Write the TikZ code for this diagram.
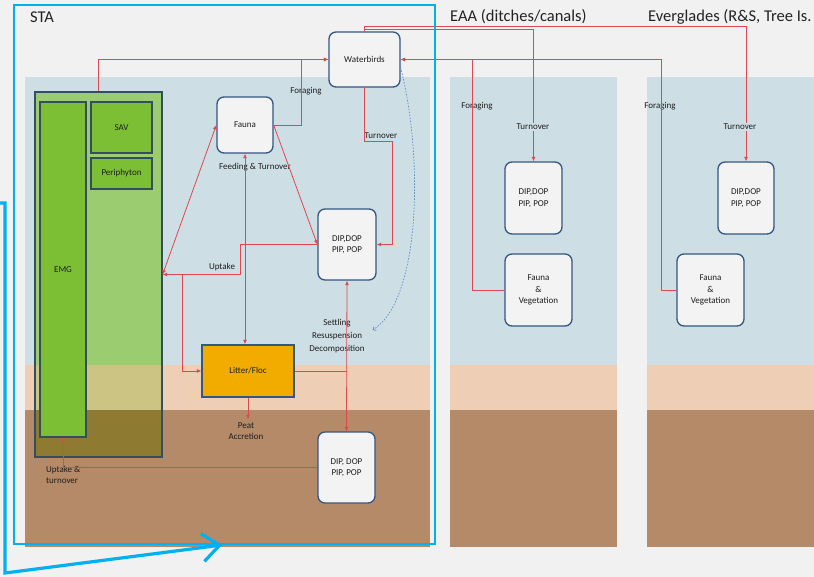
\documentclass[tikz,border=0pt]{standalone}
\usepackage{fontspec}
\setmainfont{Carlito}
\usetikzlibrary{arrows.meta}

\definecolor{paper}{RGB}{241,241,241}
\definecolor{water}{RGB}{205,223,229}
\definecolor{floc}{RGB}{238,206,180}
\definecolor{soil}{RGB}{181,138,105}
\definecolor{leafpale}{RGB}{156,204,112}
\definecolor{leafpeach}{RGB}{204,196,130}
\definecolor{leafsoil}{RGB}{143,122,50}
\definecolor{leaf}{RGB}{124,190,52}
\definecolor{plantline}{RGB}{50,78,96}
\definecolor{poolline}{RGB}{52,86,130}
\definecolor{poolfill}{RGB}{243,243,243}
\definecolor{flocorange}{RGB}{242,172,0}
\definecolor{flowred}{RGB}{222,72,80}
\definecolor{dotblue}{RGB}{95,140,200}
\definecolor{framecyan}{RGB}{0,176,240}
\definecolor{inktext}{RGB}{30,30,30}
\definecolor{titletext}{RGB}{35,35,35}

\begin{document}
\begin{tikzpicture}[x=1pt, y=-1pt,
  pool/.style={draw=poolline, line width=1.3pt, fill=poolfill, rounded corners=7pt,
    align=center, text=inktext, font=\fontsize{9}{11.5}\selectfont},
  plant/.style={draw=plantline, line width=1.2pt, fill=leaf, text=inktext,
    font=\fontsize{9}{10}\selectfont, inner sep=0pt},
  flow/.style={draw=flowred, line width=0.8pt, -{Latex[length=4.5pt,width=4pt]}},
  twoway/.style={flow, {Latex[length=4.5pt,width=4pt]}-{Latex[length=4.5pt,width=4pt]}},
  lbl/.style={font=\fontsize{9}{11}\selectfont, text=inktext, inner sep=1pt},
  region/.style={font=\fontsize{16.5}{20}\selectfont, text=titletext, anchor=west, inner sep=0pt},
  frame/.style={draw=framecyan, line width=2.6pt}]

\useasboundingbox (0,0) rectangle (814,577);
\fill[paper] (0,0) rectangle (814,577);

% water column, floc layer and soil for each area
\foreach \xa/\xb in {25/430, 450/617, 647/814} {
  \fill[water] (\xa,77) rectangle (\xb,365);
  \fill[floc] (\xa,365) rectangle (\xb,410);
  \fill[soil] (\xa,410) rectangle (\xb,547);
}

% vegetation
\fill[leafpale] (35,92) rectangle (162,365);
\fill[leafpeach] (35,365) rectangle (162,410);
\fill[leafsoil] (35,410) rectangle (162,457);
\node[draw=plantline, line width=1.2pt, minimum width=127, minimum height=365, inner sep=0pt] (plants) at (98.5,274.5) {};
\node[plant, minimum width=46, minimum height=335] (emg) at (63,269.5) {EMG};
\node[plant, minimum width=61, minimum height=51] (sav) at (121.5,127.5) {SAV};
\node[plant, minimum width=61, minimum height=31] (peri) at (121.5,173.5) {Periphyton};

% pools
\node[pool, minimum width=71, minimum height=55] (birds) at (364.5,59.5) {Waterbirds};
\node[pool, minimum width=56, minimum height=56] (fauna) at (245,125) {Fauna};
\node[pool, minimum width=58, minimum height=71] (dipw) at (347,244.5) {DIP,DOP\\PIP, POP};
\node[pool, minimum width=57, minimum height=71] (dips) at (346.5,467.5) {DIP, DOP\\PIP, POP};
\node[pool, fill=flocorange, rounded corners=0pt, minimum width=92, minimum height=52] (litter) at (248,371) {Litter/Floc};
\node[pool, minimum width=57, minimum height=72] (dipe) at (533.5,198) {DIP,DOP\\PIP, POP};
\node[pool, minimum width=67, minimum height=72] (fve) at (538.5,290) {Fauna\\\&\\Vegetation};
\node[pool, minimum width=56, minimum height=72] (dipg) at (746,198) {DIP,DOP\\PIP, POP};
\node[pool, minimum width=67, minimum height=72] (fvg) at (710.5,290) {Fauna\\\&\\Vegetation};

% labels
\node[lbl] at (306,91) {Foraging};
\node[lbl] at (381,136) {Turnover};
\node[lbl] at (255,167) {Feeding \& Turnover};
\node[lbl] at (222,267) {Uptake};
\node[lbl, align=center, font=\fontsize{9}{13}\selectfont] (settlelbl) at (337,336) {Settling\\Resuspension\\Decomposition};
\node[lbl, align=center, inner sep=3pt] (peatlbl) at (246,431) {Peat\\Accretion};
\node[lbl, align=left, anchor=north west] at (45,465) {Uptake \&\\turnover};
\foreach \x in {477,660} \node[lbl] at (\x,106) {Foraging};

% flows
\draw[flow] (plants.north) |- (birds.west);
\path (birds.west) ++(-27,0) coordinate (forage);
\draw[flow] (fauna.east) -| (forage) -- (birds.west);
\draw[flow] (birds.south) -- ++(0,54) -| ([xshift=16pt]dipw.east) -- (dipw.east);
\draw[flow] (birds.north) -- ++(0,-5) -| (dipg.north);
\draw[flow] (birds.north) -- ++(0,-1.5) -| (dipe.north);
\draw[flow] (fve.west) -| ([xshift=72pt]birds.east) -- (birds.east);
\draw[flow] (fvg.west) -| ([xshift=261pt]birds.east) -- (birds.east);
\draw[twoway] (plants.east) -- (fauna.west);
\draw[twoway] (fauna.south) -- (fauna.south |- litter.north);
\draw[flow] (fauna.east) -- (dipw.west);
\draw[flow] (dipw.west) -| ([xshift=78pt]plants.east) -- (plants.east);
\draw[flow] ([xshift=20pt]plants.east) |- (litter.west);
\draw[twoway] (dipw.south) -- (dips.north);
\draw[flowred, line width=0.8pt] (litter.east) -- (litter.east -| dipw.south);
\draw[flow] (litter.south) -- (litter.south |- peatlbl.north);
\draw[flow] (dips.west) -| (emg.south);
\draw[dotblue, line width=0.7pt, dash pattern=on 1.5pt off 1.5pt, -{To[length=3pt,width=5pt]}]
  ([yshift=-8pt]birds.east) .. controls (424,160) and (420,300) .. ([xshift=7pt,yshift=6pt]settlelbl.east);

\foreach \x in {533,740} \node[lbl, fill=water] at (\x,127) {Turnover};

% areas
\node[region] at (30,17) {STA};
\node[region] at (450,17) {EAA (ditches/canals)};
\node[region] at (648,17) {Everglades (R\&S, Tree Is.};

\draw[frame] (14,5) rectangle (435,544);
\draw[frame, line width=3.2pt, line cap=round, -{Straight Barb[length=17pt,width=28pt]}] (0,203) -- (5,203) -- (5,573) -- (222,545);
\end{tikzpicture}
\end{document}
